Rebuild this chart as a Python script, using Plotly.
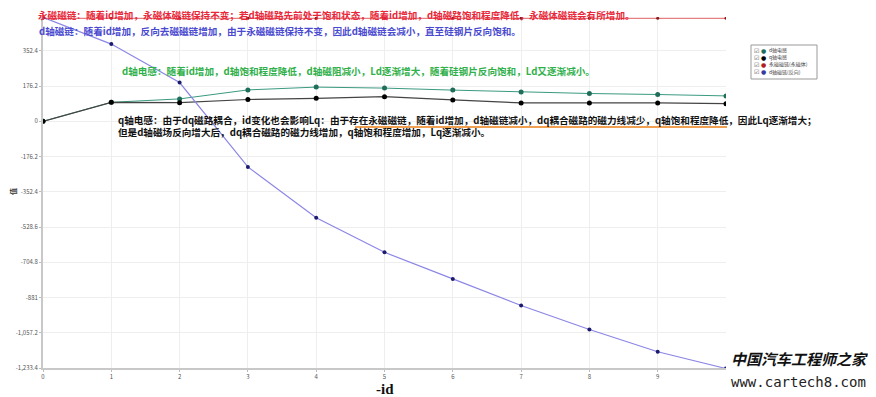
import plotly.graph_objects as go

x_vals = [0, 1, 2, 3, 4, 5, 6, 7, 8, 9, 10]
ld_vals = [0, 95, 112, 157, 171, 166, 156, 146, 139, 134, 127]
lq_vals = [0, 95, 93, 109, 115, 123, 107, 92, 92, 92, 88]
psi_pm_vals = [515, 515, 515, 515, 515, 515, 515, 515, 515, 515, 515]
psi_d_vals = [520, 386, 194, -228, -482, -655, -788, -921, -1041, -1152, -1236]

names = ["d轴电感", "q轴电感", "永磁磁链(永磁体)", "d轴磁链(反向)"]
ytick_vals = [-1233.4, -1057.2, -881, -704.8, -528.6, -352.4, -176.2, 0, 176.2, 352.4]
ytick_text = ["-1,233.4", "-1,057.2", "-881", "-704.8", "-528.6", "-352.4", "-176.2", "0", "176.2", "352.4"]
xtick_vals = [0, 1, 2, 3, 4, 5, 6, 7, 8, 9]

FONT = "Noto Sans CJK SC"
colors_marker = ["#1f6e5a", "#000000", "#b02020", "#3a3aa0"]

fig = go.Figure()
fig.add_trace(go.Scatter(x=x_vals, y=ld_vals, name=names[0], mode="lines+markers",
                         line=dict(color="#3a9a80", width=1), marker=dict(color=colors_marker[0], size=5)))
fig.add_trace(go.Scatter(x=x_vals, y=lq_vals, name=names[1], mode="lines+markers",
                         line=dict(color="#444444", width=1.2), marker=dict(color=colors_marker[1], size=5)))
fig.add_trace(go.Scatter(x=x_vals, y=psi_pm_vals, name=names[2], mode="lines+markers",
                         line=dict(color="#e06060", width=1), marker=dict(color="#8a1a1a", size=3)))
fig.add_trace(go.Scatter(x=x_vals, y=psi_d_vals, name=names[3], mode="lines+markers",
                         line=dict(color="#8c86e6", width=1.2), marker=dict(color="#1c1c6e", size=4)))

# page body has an 8px margin: work in screen pixels and subtract it
OFF = 8
W, H = 876 - OFF, 397 - OFF
L, T = 43 - OFF, 17 - OFF
R = W - (726 - OFF)
B = H - (368 - OFF)
pw, ph = W - L - R, H - T - B


def px(xs):
    return (xs - OFF - L) / pw


def py(ys):
    return (H - B - (ys - OFF)) / ph


annotations = [
    dict(text="<b>永磁磁链：随着id增加，永磁体磁链保持不变；若d轴磁路先前处于饱和状态，随着id增加，d轴磁路饱和程度降低，永磁体磁链会有所增加。</b>",
         x=px(37), y=py(7), yanchor="top", borderpad=0,
         font=dict(color="#e8283a", size=9.6, family=FONT)),
    dict(text="<b>d轴磁链：随着id增加，反向去磁磁链增加，由于永磁磁链保持不变，因此d轴磁链会减小，直至硅钢片反向饱和。</b>",
         x=px(37), y=py(31), font=dict(color="#4a4ad0", size=9.6, family=FONT)),
    dict(text="<b>d轴电感：随着id增加，d轴饱和程度降低，d轴磁阻减小，Ld逐渐增大，随着硅钢片反向饱和，Ld又逐渐减小。</b>",
         x=px(120), y=py(71), font=dict(color="#2fb04a", size=9.6, family=FONT)),
    dict(text="<b>q轴电感：由于dq磁路耦合，id变化也会影响Lq：由于存在永磁磁链，随着id增加，d轴磁链减小，dq耦合磁路的磁力线减少，q轴饱和程度降低，因此Lq逐渐增大；<br>但是d轴磁场反向增大后，dq耦合磁路的磁力线增加，q轴饱和程度增加，Lq逐渐减小。</b>",
         x=px(116), y=py(125.5), align="left", font=dict(color="#111111", size=9.6, family=FONT)),
    dict(text="<b>-id</b>", x=px(385), y=py(389), xanchor="center", borderpad=0,
         font=dict(color="#111111", size=15, family="Liberation Serif")),
    dict(text="<b>值</b>", x=px(13), y=py(192), xanchor="center", textangle=-90,
         font=dict(color="#333333", size=7, family=FONT)),
    dict(text="<b><i>中国汽车工程师之家</i></b>", x=px(729), y=py(358), xanchor="left",
         font=dict(color="#111111", size=15, family=FONT)),
    dict(text="www.cartech8.com", x=px(729), y=py(382), xanchor="left",
         font=dict(color="#222222", size=14, family="DejaVu Sans Mono")),
]

# hand-made compact legend
legend_rows = [50, 57, 64, 72]
for i, nm in enumerate(names):
    yy = py(legend_rows[i])
    annotations.append(dict(text="☑", x=px(752), y=yy, font=dict(color="#555555", size=6, family="DejaVu Sans")))
    annotations.append(dict(text="●", x=px(759), y=yy, font=dict(color=colors_marker[i], size=6, family="DejaVu Sans")))
    annotations.append(dict(text=nm, x=px(767), y=yy, font=dict(color="#444444", size=5, family=FONT)))

for a in annotations:
    a.setdefault("xanchor", "left")
    a.setdefault("yanchor", "middle")
    a.update(xref="paper", yref="paper", showarrow=False)

shapes = [
    dict(type="line", xref="paper", yref="paper", x0=px(355), x1=px(727),
         y0=py(127), y1=py(127), line=dict(color="#f0a050", width=2)),
    dict(type="rect", xref="paper", yref="paper", x0=px(751), x1=px(817),
         y0=py(45), y1=py(79), line=dict(color="#999999", width=1), fillcolor="white", layer="above"),
]

fig.update_layout(
    width=W, height=H,
    margin=dict(l=L, r=R, t=T, b=B, autoexpand=False),
    paper_bgcolor="white", plot_bgcolor="white",
    font=dict(family=FONT, color="#555555"),
    annotations=annotations,
    shapes=shapes,
    showlegend=False,
)
fig.update_xaxes(range=[0, 10], tickvals=xtick_vals, showgrid=True, gridcolor="#eeeeee",
                 showline=True, linecolor="#c8c8c8", linewidth=2, zeroline=False,
                 tickfont=dict(size=6, color="#555555"), ticks="outside", ticklen=2, tickcolor="#bbbbbb")
fig.update_yaxes(range=[-1233.4, 521.5], tickvals=ytick_vals, ticktext=ytick_text,
                 showgrid=True, gridcolor="#eeeeee", showline=True, linecolor="#c8c8c8",
                 linewidth=2, zeroline=False,
                 tickfont=dict(size=6, color="#555555"), ticks="outside", ticklen=2, tickcolor="#bbbbbb")

fig.write_html("out.html")
